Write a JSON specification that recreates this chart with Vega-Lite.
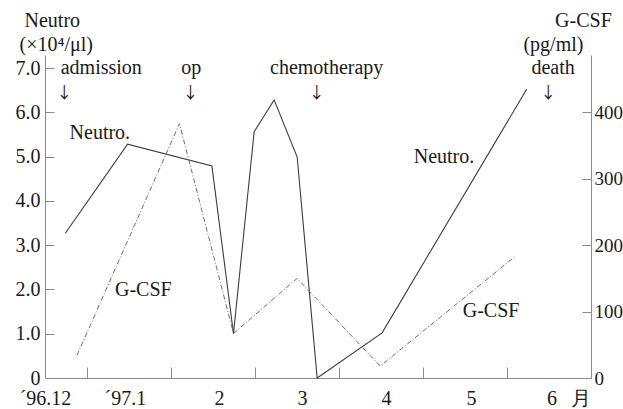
{
  "$schema": "https://vega.github.io/schema/vega-lite/v6.json",
  "width": 546,
  "height": 323,
  "autosize": {"type": "none"},
  "padding": {"left": 45, "top": 55, "right": 32, "bottom": 31},
  "background": "white",
  "config": {
    "view": {"stroke": null},
    "font": "Liberation Serif",
    "axis": {"grid": false, "domainColor": "#8a8a8a", "tickColor": "#8a8a8a", "labelColor": "#1a1a1a", "labelFont": "Liberation Serif", "title": null}
  },
  "datasets": {
    "neutro": [
      {"month": -0.258, "neutro": 3.27},
      {"month": 0.483, "neutro": 5.28},
      {"month": 1.487, "neutro": 4.79},
      {"month": 1.744, "neutro": 1.0},
      {"month": 1.99, "neutro": 5.56},
      {"month": 2.228, "neutro": 6.28},
      {"month": 2.502, "neutro": 4.99},
      {"month": 2.74, "neutro": 0.0},
      {"month": 3.513, "neutro": 1.02},
      {"month": 5.234, "neutro": 6.52}
    ],
    "gcsf": [
      {"month": -0.12, "gcsf": 34},
      {"month": 1.101, "gcsf": 383},
      {"month": 1.744, "gcsf": 67},
      {"month": 2.502, "gcsf": 150},
      {"month": 3.49, "gcsf": 18},
      {"month": 5.096, "gcsf": 183}
    ],
    "notes": [
      {"kind": "event", "text": "admission", "month": 0.17, "level": 6.99},
      {"kind": "event", "text": "op", "month": 1.241, "level": 6.99},
      {"kind": "event", "text": "chemotherapy", "month": 2.853, "level": 6.99},
      {"kind": "event", "text": "death", "month": 5.548, "level": 6.99},
      {"kind": "arrow", "text": "↓", "month": -0.27, "level": 6.44},
      {"kind": "arrow", "text": "↓", "month": 1.231, "level": 6.44},
      {"kind": "arrow", "text": "↓", "month": 2.736, "level": 6.44},
      {"kind": "arrow", "text": "↓", "month": 5.49, "level": 6.44},
      {"kind": "series", "text": "Neutro.", "month": 0.153, "level": 5.53},
      {"kind": "series", "text": "Neutro.", "month": 4.25, "level": 4.99},
      {"kind": "series", "text": "G-CSF", "month": 0.67, "level": 1.98},
      {"kind": "series", "text": "G-CSF", "month": 4.81, "level": 1.51},
      {"kind": "header", "text": "Neutro", "month": -0.413, "level": 8.06},
      {"kind": "header", "text": "(×10⁴/μl)", "month": -0.366, "level": 7.53},
      {"kind": "header", "text": "G-CSF", "month": 5.91, "level": 8.06},
      {"kind": "header", "text": "(pg/ml)", "month": 5.553, "level": 7.53}
    ]
  },
  "layer": [
    {
      "data": {"name": "neutro"},
      "mark": {"type": "line", "color": "#3c3c3c", "strokeWidth": 1.1},
      "encoding": {
        "x": {
          "field": "month", "type": "quantitative",
          "scale": {"domain": [-0.5, 6], "nice": false, "zero": false},
          "axis": {
            "orient": "bottom",
            "values": [-0.5, 0.45, 1.57, 2.56, 3.56, 4.57, 5.53, 5.87],
            "labelExpr": "datum.value < 0 ? '´96.12' : datum.value < 1 ? '´97.1' : datum.value < 2 ? '2' : datum.value < 3 ? '3' : datum.value < 4 ? '4' : datum.value < 5 ? '5' : datum.value < 5.7 ? '6' : '月'",
            "ticks": false, "tickSize": 0, "domain": true,
            "labelFontSize": 20, "labelPadding": 10, "labelOverlap": false, "labelFlush": false, "labelBound": false
          }
        },
        "y": {
          "field": "neutro", "type": "quantitative",
          "scale": {"domain": [0, 7.294], "nice": false, "zero": true},
          "axis": {
            "orient": "left",
            "values": [0, 1, 2, 3, 4, 5, 6, 7],
            "labelExpr": "datum.value == 0 ? '0  ' : format(datum.value, '.1f')",
            "tickSize": -9, "labelPadding": 14, "labelFontSize": 20
          }
        }
      }
    },
    {
      "data": {"name": "gcsf"},
      "mark": {"type": "line", "color": "#6e6e6e", "strokeWidth": 1, "strokeDash": [5, 2, 1, 2]},
      "encoding": {
        "x": {
          "field": "month", "type": "quantitative",
          "scale": {"domain": [-0.5, 6], "nice": false, "zero": false},
          "axis": {
            "orient": "bottom",
            "values": [0, 1, 2, 3, 4, 5],
            "labels": false, "domain": false, "tickSize": -11
          }
        },
        "y": {
          "field": "gcsf", "type": "quantitative",
          "scale": {"domain": [0, 486.3], "nice": false, "zero": true},
          "axis": {
            "orient": "right",
            "values": [0, 100, 200, 300, 400],
            "tickSize": -9, "labelPadding": 12, "labelFontSize": 19
          }
        }
      }
    },
    {
      "data": {"name": "notes"},
      "transform": [{"filter": "datum.kind != 'arrow'"}],
      "mark": {"type": "text", "fontSize": 20, "color": "#1a1a1a", "align": "center", "baseline": "middle", "font": "Liberation Serif"},
      "encoding": {
        "x": {"field": "month", "type": "quantitative", "scale": {"domain": [-0.5, 6], "nice": false, "zero": false}, "axis": null},
        "y": {"field": "level", "type": "quantitative", "scale": {"domain": [0, 7.294], "nice": false, "zero": true}, "axis": null},
        "text": {"field": "text", "type": "nominal"}
      }
    },
    {
      "data": {"name": "notes"},
      "transform": [{"filter": "datum.kind == 'arrow'"}],
      "mark": {"type": "text", "fontSize": 16, "color": "#1a1a1a", "align": "center", "baseline": "middle", "font": "Noto Sans CJK JP"},
      "encoding": {
        "x": {"field": "month", "type": "quantitative", "scale": {"domain": [-0.5, 6], "nice": false, "zero": false}, "axis": null},
        "y": {"field": "level", "type": "quantitative", "scale": {"domain": [0, 7.294], "nice": false, "zero": true}, "axis": null},
        "text": {"field": "text", "type": "nominal"}
      }
    }
  ],
  "resolve": {"scale": {"y": "independent"}, "axis": {"x": "independent", "y": "independent"}}
}
